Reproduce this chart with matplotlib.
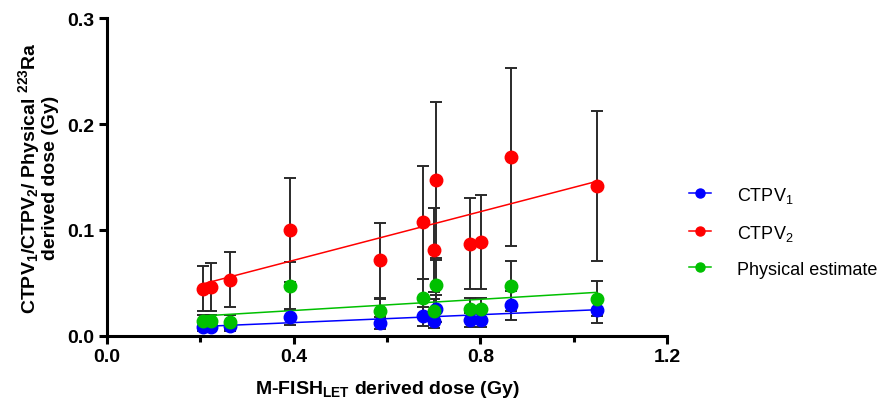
import matplotlib
matplotlib.use("Agg")
import matplotlib.pyplot as plt
from matplotlib.lines import Line2D
import numpy as np

plt.rcParams['font.family'] = ['Liberation Sans', 'DejaVu Sans']
plt.rcParams['mathtext.fontset'] = 'custom'
plt.rcParams['mathtext.rm'] = 'Liberation Sans'
plt.rcParams['mathtext.it'] = 'Liberation Sans:italic'
plt.rcParams['mathtext.bf'] = 'Liberation Sans:bold'

# ---- data ----
mfish_dose = [0.206, 0.222, 0.263, 0.393, 0.584, 0.677, 0.700, 0.704, 0.777, 0.801, 0.865, 1.049]
ctpv1 = [0.0082, 0.0082, 0.0090, 0.0177, 0.0120, 0.0183, 0.0136, 0.0256, 0.0145, 0.0145, 0.0287, 0.0240]
ctpv1_err = [0.0040, 0.0040, 0.0045, 0.0080, 0.0060, 0.0090, 0.0065, 0.0125, 0.0065, 0.0065, 0.0140, 0.0118]
ctpv2 = [0.0445, 0.0460, 0.0530, 0.0997, 0.0713, 0.1070, 0.0810, 0.1470, 0.0870, 0.0887, 0.1690, 0.1415]
ctpv2_err = [0.0210, 0.0230, 0.0260, 0.0490, 0.0356, 0.0530, 0.0400, 0.0740, 0.0430, 0.0442, 0.0840, 0.0705]
physical = [0.0135, 0.0135, 0.0130, 0.0470, 0.0234, 0.0357, 0.0230, 0.0480, 0.0256, 0.0256, 0.0470, 0.0350]
physical_err = [0.0065, 0.0065, 0.0065, 0.0230, 0.0115, 0.0175, 0.0115, 0.0240, 0.0105, 0.0105, 0.0233, 0.0165]

x_ticks = [0.0, 0.4, 0.8, 1.2]
x_minor_ticks = [0.2, 0.6, 1.0]
y_ticks = [0.0, 0.1, 0.2, 0.3]

series_names = ['CTPV$_1$', 'CTPV$_2$', 'Physical estimate']
series_colors = ['#0000FF', '#FF0000', '#00C000']

fig = plt.figure(figsize=(8.83, 4.06), dpi=100)
ax = fig.add_axes([0.1212, 0.1707, 0.6342, 0.7818])

x = np.array(mfish_dose)
series = [(ctpv1, ctpv1_err), (ctpv2, ctpv2_err), (physical, physical_err)]
for (vals, errs), col in zip(series, series_colors):
    ax.errorbar(x, vals, yerr=errs, fmt='none', ecolor='#2a2a2a', elinewidth=1.4,
                capsize=4.5, capthick=1.4, zorder=2)
for (vals, errs), col in zip(series, series_colors):
    slope, icpt = np.polyfit(x, np.array(vals), 1)
    xx = np.array([x.min(), x.max()])
    ax.plot(xx, icpt + slope * xx, color=col, lw=1.1, zorder=3)
    ax.plot(x, vals, 'o', color=col, ms=9, mec=col, zorder=4)

ax.set_xlim(0, 1.2)
ax.set_ylim(0, 0.3)
ax.set_xticks(x_ticks)
ax.set_xticks(x_minor_ticks, minor=True)
ax.set_xticklabels([f'{v:.1f}' for v in x_ticks], fontsize=14, fontweight='bold')
ax.set_yticks(y_ticks)
ax.set_yticklabels([f'{v:.1f}' for v in y_ticks], fontsize=14, fontweight='bold')

for s in ['top', 'right']:
    ax.spines[s].set_visible(False)
for s in ['left', 'bottom']:
    ax.spines[s].set_linewidth(2.2)
ax.tick_params(which='major', length=6, width=2.2, direction='out', pad=3)
ax.tick_params(which='minor', length=4, width=2.2, direction='out')

ax.set_xlabel(r'M-FISH$_\mathbf{LET}$ derived dose (Gy)', fontsize=14, fontweight='bold', labelpad=9)
ax.set_ylabel('CTPV$_\\mathbf{1}$/CTPV$_\\mathbf{2}$/ Physical $^\\mathbf{223}$Ra\nderived dose (Gy)',
              fontsize=14, fontweight='bold', labelpad=6, linespacing=1.0)

handles = [Line2D([0], [0], color=c, lw=1.1, marker='o', ms=6.5) for c in series_colors]
fig.legend(handles, series_names, loc='center left', bbox_to_anchor=(0.780, 0.428),
           frameon=False, fontsize=13, labelspacing=1.0, handlelength=1.25, handletextpad=1.4,
           borderaxespad=0, borderpad=0)

fig.savefig('out.png', dpi=100)
